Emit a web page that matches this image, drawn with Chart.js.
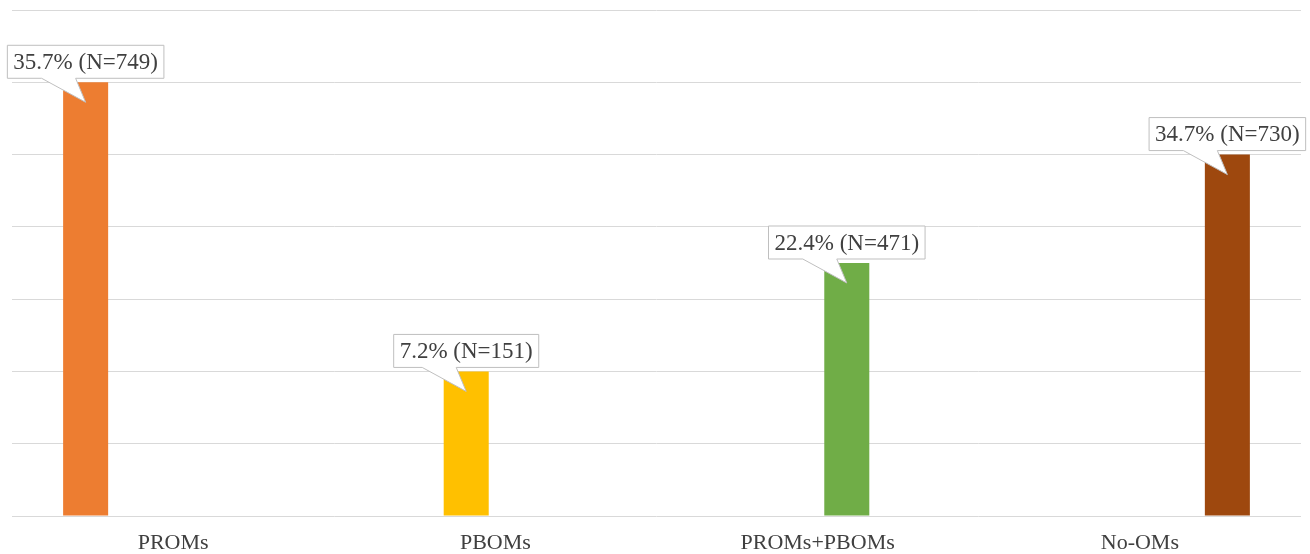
<!DOCTYPE html>
<html>
<head>
<meta charset="utf-8">
<script src="https://cdn.jsdelivr.net/npm/chart.js@4"></script>
<style>
  html, body { margin: 0; padding: 0; background: #fff; }
  #wrap { width: 1310px; height: 554px; }
</style>
</head>
<body>
<div id="wrap"><canvas id="omChart"></canvas></div>
<script>
// categories and bar heights as drawn (hidden axis, 0-7)
const categories = ["PROMs", "PBOMs", "PROMs+PBOMs", "No-OMs"];
const barHeights = [6, 2, 3.5, 5];
const percents = [35.7, 7.2, 22.4, 34.7];
const counts = [749, 151, 471, 730];
const colors = ["#ED7D31", "#FFC000", "#70AD47", "#9E480E"];

const serif = "'Liberation Serif', 'Times New Roman', serif";

// callout boxes above the bars
const calloutPlugin = {
  id: "callouts",
  afterDatasetsDraw(chart) {
    const ctx = chart.ctx;
    ctx.save();
    ctx.font = "23px " + serif;
    ctx.textBaseline = "middle";
    ctx.textAlign = "center";
    chart.data.datasets.forEach(function (ds, i) {
      const bar = chart.getDatasetMeta(i).data[i];
      if (!bar) return;
      const text = percents[i].toFixed(1) + "% (N=" + counts[i] + ")";
      const w = ctx.measureText(text).width + 12;
      const h = 33;
      const cx = bar.x;
      const left = cx - w / 2;
      const right = cx + w / 2;
      const bottom = bar.y - 4;
      const top = bottom - h;
      ctx.beginPath();
      ctx.moveTo(left, top);
      ctx.lineTo(right, top);
      ctx.lineTo(right, bottom);
      ctx.lineTo(cx - 10, bottom);
      ctx.lineTo(cx, bar.y + 20);
      ctx.lineTo(cx - 44, bottom);
      ctx.lineTo(left, bottom);
      ctx.closePath();
      ctx.fillStyle = "#ffffff";
      ctx.fill();
      ctx.strokeStyle = "#bfbfbf";
      ctx.lineWidth = 1;
      ctx.stroke();
      ctx.fillStyle = "#404040";
      ctx.fillText(text, cx, top + h / 2 + 1);
    });
    ctx.restore();
  },
};

const ctxOm = document.getElementById("omChart").getContext("2d");
const omChart = new Chart(ctxOm, {
  type: "bar",
  data: {
    labels: categories,
    datasets: categories.map(function (c, i) {
      return {
        label: c,
        data: categories.map(function (_, j) {
          return j === i ? barHeights[i] : null;
        }),
        backgroundColor: colors[i],
        borderWidth: 0,
        barPercentage: 0.772,
        categoryPercentage: 0.724,
      };
    }),
  },
  options: {
    responsive: true,
    maintainAspectRatio: false,
    animation: false,
    layout: {
      padding: { left: 12, right: 9, top: 10, bottom: 0 },
    },
    plugins: {
      legend: { display: false },
      tooltip: { enabled: false },
    },
    scales: {
      x: {
        grid: { display: false, drawTicks: false },
        border: { display: false },
        afterFit: function (scale) {
          scale.height = 38;
        },
        ticks: {
          color: "#404040",
          padding: 14,
          font: { family: serif, size: 22 },
        },
      },
      y: {
        min: 0,
        max: 7,
        ticks: { display: false, stepSize: 1 },
        border: { display: false },
        grid: { color: "#d9d9d9", drawTicks: false },
      },
    },
  },
  plugins: [calloutPlugin],
});
</script>
</body>
</html>
